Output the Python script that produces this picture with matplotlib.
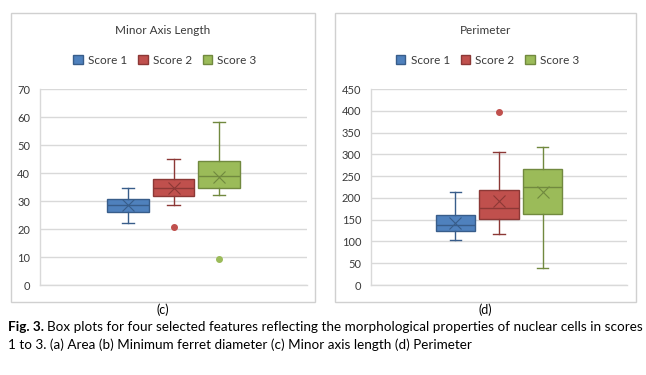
import matplotlib
matplotlib.use("Agg")
import matplotlib.pyplot as plt
from matplotlib.patches import Rectangle, Patch

plt.rcParams['font.family'] = ['Lato', 'DejaVu Sans']

series = ["Score 1", "Score 2", "Score 3"]
fill_colors = ["#4F81BD", "#C0504D", "#9BBB59"]
edge_colors = ["#385D8A", "#8C3836", "#71893F"]

# Minor axis length (c)
minor_whislo = [22.0, 28.5, 32.0]
minor_q1 = [26.2, 31.9, 34.6]
minor_med = [28.7, 34.6, 38.8]
minor_q3 = [30.6, 37.7, 44.4]
minor_whishi = [34.8, 45.1, 58.2]
minor_mean = [28.4, 34.8, 38.6]
minor_fliers = [[], [20.8], [9.2]]
minor_yticks = [0, 10, 20, 30, 40, 50, 60, 70]

# Perimeter (d)
perim_whislo = [103, 117, 39]
perim_q1 = [124, 151, 163]
perim_med = [138, 176, 224]
perim_q3 = [161, 219, 267]
perim_whishi = [213, 306, 316]
perim_mean = [142, 193, 214]
perim_fliers = [[], [398], []]
perim_yticks = [0, 50, 100, 150, 200, 250, 300, 350, 400, 450]

W, H = 646, 375
fig = plt.figure(figsize=(W / 100, H / 100), dpi=100)

def fx(px):
    return px / W

def fy(py):
    return 1 - py / H

def panel(border, axrect, title, label, whislo, q1, med, q3, whishi, mean, fliers, yticks):
    bx0, by0, bx1, by1 = border
    fig.patches.append(Rectangle((fx(bx0), fy(by1)), fx(bx1 - bx0), (by1 - by0) / H,
                                 transform=fig.transFigure, fill=False,
                                 edgecolor="#d0d0d0", linewidth=1.0))
    ax0, ay0, ax1, ay1 = axrect
    ax = fig.add_axes([fx(ax0), fy(ay1), fx(ax1 - ax0), (ay1 - ay0) / H])
    ax.set_xlim(0, 1)
    ax.set_ylim(yticks[0], yticks[-1])
    ax.set_yticks(yticks)
    ax.set_xticks([])
    ax.yaxis.grid(True, color="#d9d9d9", linewidth=1.0)
    ax.set_axisbelow(True)
    for s in ["top", "right"]:
        ax.spines[s].set_visible(False)
    for s in ["left", "bottom"]:
        ax.spines[s].set_color("#d9d9d9")
        ax.spines[s].set_linewidth(1.0)
    ax.tick_params(axis="y", length=0, pad=7, labelsize=8, labelcolor="#3a3a3a")
    width = 0.155
    spacing = 0.17
    for i in range(len(series)):
        stats = [dict(whislo=whislo[i], q1=q1[i], med=med[i], q3=q3[i],
                      whishi=whishi[i], mean=mean[i], fliers=fliers[i])]
        pos = 0.5 + (i - 1) * spacing
        ax.bxp(stats, positions=[pos], widths=width, patch_artist=True,
               showmeans=True, showfliers=True, manage_ticks=False,
               boxprops=dict(facecolor=fill_colors[i], edgecolor=edge_colors[i], linewidth=1.0),
               medianprops=dict(color=edge_colors[i], linewidth=1.0),
               whiskerprops=dict(color=edge_colors[i], linewidth=1.0),
               capprops=dict(color=edge_colors[i], linewidth=1.0),
               capwidths=width * 0.3,
               meanprops=dict(marker="x", markeredgecolor=edge_colors[i], markersize=8,
                              markeredgewidth=0.8),
               flierprops=dict(marker="o", markerfacecolor=fill_colors[i],
                               markeredgecolor=fill_colors[i], markersize=4))
    cx = (bx0 + bx1) / 2
    fig.text(fx(cx), fy(30), title, ha="center", va="center", fontsize=8.5, color="#3a3a3a")
    handles = [Patch(facecolor=fill_colors[i], edgecolor=edge_colors[i], label=series[i])
               for i in range(len(series))]
    fig.legend(handles=handles, loc="center", bbox_to_anchor=(fx(cx + 2), fy(60)),
               ncol=3, frameon=False, fontsize=8.5, handlelength=0.8, handleheight=0.9,
               handletextpad=0.45, columnspacing=0.9, labelcolor="#3a3a3a")
    fig.text(fx(cx), fy(310), label, ha="center", va="center", fontsize=9, color="black")
    return ax

panel((11, 13, 315, 302), (40, 89, 307, 285), "Minor Axis Length", "(c)",
      minor_whislo, minor_q1, minor_med, minor_q3, minor_whishi, minor_mean, minor_fliers,
      minor_yticks)
panel((335, 13, 636, 302), (371, 89, 627, 285), "Perimeter", "(d)",
      perim_whislo, perim_q1, perim_med, perim_q3, perim_whishi, perim_mean, perim_fliers,
      perim_yticks)

cap_fs = 9.7
t1 = fig.text(fx(8), fy(327), "Fig. 3.", ha="left", va="center", fontsize=cap_fs, fontweight="bold")
fig.canvas.draw()
r = fig.canvas.get_renderer()
bb = t1.get_window_extent(r)
fig.text(bb.x1 / W + fx(3), fy(327),
         "Box plots for four selected features reflecting the morphological properties of nuclear cells in scores",
         ha="left", va="center", fontsize=cap_fs)
fig.text(fx(8), fy(345), "1 to 3. (a) Area (b) Minimum ferret diameter (c) Minor axis length (d) Perimeter",
         ha="left", va="center", fontsize=cap_fs)

fig.savefig("out.png", dpi=100, facecolor="white")
